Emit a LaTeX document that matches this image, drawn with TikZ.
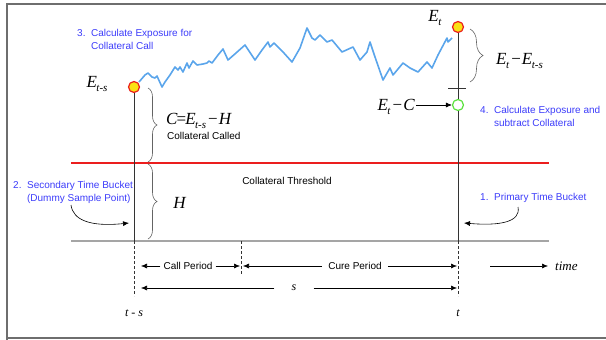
\documentclass[tikz,border=0pt]{standalone}
\usepackage{fontspec}
\setmainfont{Liberation Serif}
\newfontfamily\sansf{Liberation Sans}
\usetikzlibrary{arrows.meta,decorations.pathreplacing}
\definecolor{lblue}{RGB}{60,60,250}
\definecolor{curvec}{RGB}{90,165,235}
\definecolor{thr}{RGB}{235,30,30}
\definecolor{framec}{RGB}{110,110,110}
\definecolor{basec}{RGB}{165,165,165}
\definecolor{grc}{RGB}{90,225,60}
\definecolor{yel}{RGB}{250,225,20}
\definecolor{bracec}{RGB}{100,100,100}
\newcommand\Emath[1]{\textit{E}\kern-0.5pt\raisebox{-0.28em}{\fontsize{11}{11}\selectfont\textit{#1}}}
\begin{document}
\begin{tikzpicture}[x=1pt,y=-1pt,
  bluelbl/.style={font=\sansf\fontsize{10}{13}\selectfont, text=lblue, align=left, inner sep=0, anchor=west},
  plainlbl/.style={font=\sansf\fontsize{10}{13}\selectfont, inner sep=0},
  mathlbl/.style={font=\fontsize{17}{17}\selectfont, inner sep=0},
  smalllbl/.style={font=\fontsize{12}{12}\selectfont\itshape, inner sep=0},
  ptyel/.style={circle, draw=thr, fill=yel, line width=1.2pt, minimum size=11pt, inner sep=0},
  ptgrn/.style={circle, draw=grc, fill=white, line width=1.2pt, minimum size=11pt, inner sep=0},
  arr/.style={-{Latex[length=6pt,width=5pt]}, line width=0.6pt},
  vline/.style={line width=0.7pt, black!80},
  dline/.style={line width=0.7pt, black!80, dash pattern=on 3pt off 2pt},
  bracedec/.style={decorate, decoration={brace, amplitude=#1}, draw=bracec, line width=0.6pt},
]
\useasboundingbox (0,0) rectangle (606,340);
% frame
\draw[framec, line width=1.4pt] (7,340) -- (7,4) -- (606,4);
\draw[framec, line width=1.4pt] (7,338) -- (606,338);

% horizontal lines
\draw[thr, line width=2pt] (71,163) -- (549,163);
\draw[basec, line width=2pt] (71,241) -- (549,241);

% points
\node[ptyel] (Ets) at (134,87) {};
\node[ptyel] (Et) at (458,27) {};
\node[ptgrn] (EtC) at (458,105) {};
\coordinate (baseL) at (134,241);
\coordinate (baseR) at (458,241);
\coordinate (baseM) at (241,241);
\coordinate (botL) at (134,296);
\coordinate (botR) at (458,296);
\coordinate (botM) at (241,275);

% verticals
\draw[vline] (Ets.south) -- (baseL);
\draw[dline] (baseL) -- (botL);
\draw[vline] (Et.south) -- (EtC.north);
\draw[vline] (EtC.south) -- (baseR);
\draw[dline] (baseR) -- (botR);
\draw[dline] (baseM) -- (botM);
\coordinate (tickL) at (448,88);
\coordinate (tickR) at (466,88);
\draw[vline] (tickL) -- (tickR);

% blue curve
\draw[curvec, line width=1.6pt, line join=round] (139,82) -- (145,75) -- (148,73) -- (152,77) -- (155,78) -- (157,76) -- (162,87) -- (165,82) -- (170,75) -- (175,67) -- (178,70) -- (180,67) -- (183,72) -- (187,63) -- (189,68) -- (193,61) -- (197,65) -- (203,64) -- (207,63) -- (209,61) -- (212,63) -- (218,55) -- (223,49) -- (228,60) -- (236,53) -- (245,45) -- (255,60) -- (262,50) -- (268,42) -- (270,47) -- (274,43) -- (283,52) -- (292,62) -- (300,48) -- (307,28) -- (312,38) -- (315,40) -- (320,35) -- (327,42) -- (332,40) -- (342,52) -- (353,47) -- (360,60) -- (367,52) -- (370,42) -- (375,57) -- (383,80) -- (390,68) -- (393,75) -- (403,63) -- (410,68) -- (418,72) -- (427,62) -- (432,68) -- (438,55) -- (447,38) -- (448,42) -- (452,38);

% braces
\coordinate (bCt) at (148,88);
\coordinate (bCb) at (148,162);
\coordinate (bHt) at (148,164);
\coordinate (bHb) at (148,239);
\coordinate (bEt) at (470,29);
\coordinate (bEb) at (470,82);
\draw[bracedec=9pt] (bCt) -- (bCb);
\draw[bracedec=9pt] (bHt) -- (bHb);
\draw[bracedec=13pt] (bEt) -- (bEb);

% math labels
\node[mathlbl] (lEts) at (97,84) {\Emath{t-s}};
\node[mathlbl] (lEt) at (435,18) {\Emath{t}};
\node[mathlbl, anchor=west] (lC) at (166,121) {\textit{C}\kern-1pt=\kern-1pt\Emath{t-s}\kern2pt−\kern1pt\textit{H}};
\node[plainlbl, anchor=west] (lCC) at (167,136) {Collateral Called};
\node[mathlbl] (lH) at (180,203) {\textit{H}};
\node[mathlbl, anchor=west] (lD) at (496,61) {\Emath{t}\kern2pt−\kern1pt\Emath{t-s}};
\node[mathlbl, anchor=east, inner xsep=1pt] (lEC) at (416,107) {\Emath{t}\kern2pt−\kern1pt\textit{C}};
\draw[arr] (lEC.east |- EtC) -- (EtC.west);

% blue labels
\node[bluelbl] (n3) at (77,39.5) {3.\ \ Calculate Exposure for\\\phantom{3.\ \ }Collateral Call};
\node[bluelbl] (n4) at (480,116) {4.\ \ Calculate Exposure and\\\phantom{4.\ \ }subtract Collateral};
\node[bluelbl] (n2) at (13,192.5) {2.\ \ Secondary Time Bucket\\\phantom{2.\ \ }(Dummy Sample Point)};
\node[bluelbl] (n1) at (480,198) {1.\ \ Primary Time Bucket};
\node[plainlbl] (thrl) at (287,181) {Collateral Threshold};

% curved arrows
\coordinate (c2s) at (71,205);
\coordinate (c2e) at (129,223);
\draw[arr] (c2s) .. controls (73,220) and (90,227) .. (c2e);
\coordinate (c1s) at (518,207);
\coordinate (c1e) at (464,223);
\draw[arr] (c1s) .. controls (521,222) and (500,226) .. (c1e);

% period arrows
\node[plainlbl, inner xsep=3pt] (call) at (188,266) {Call Period};
\node[plainlbl, inner xsep=6pt] (cure) at (355,266) {Cure Period};
\coordinate (r1L) at (141,266);
\coordinate (r1M) at (240,266);
\coordinate (r1M2) at (243,266);
\coordinate (r1R) at (457,266);
\draw[arr] (call.west) -- (r1L);
\draw[arr] (call.east) -- (r1M);
\draw[arr] (cure.west) -- (r1M2);
\draw[arr] (cure.east) -- (r1R);

\node[smalllbl, inner xsep=17pt] (s) at (294,288) {s};
\coordinate (r2L) at (141,288);
\coordinate (r2R) at (457,288);
\draw[arr] (s.west) -- (r2L);
\draw[arr] (s.east) -- (r2R);

\coordinate (tS) at (490,266);
\coordinate (tE) at (548,266);
\draw[arr] (tS) -- (tE);
\node[smalllbl, anchor=west, font=\fontsize{13}{13}\selectfont\itshape] (time) at (555,266) {time};

\node[smalllbl] (tsl) at (134,313) {t - s};
\node[smalllbl] (tl) at (458,313) {t};
\end{tikzpicture}
\end{document}
